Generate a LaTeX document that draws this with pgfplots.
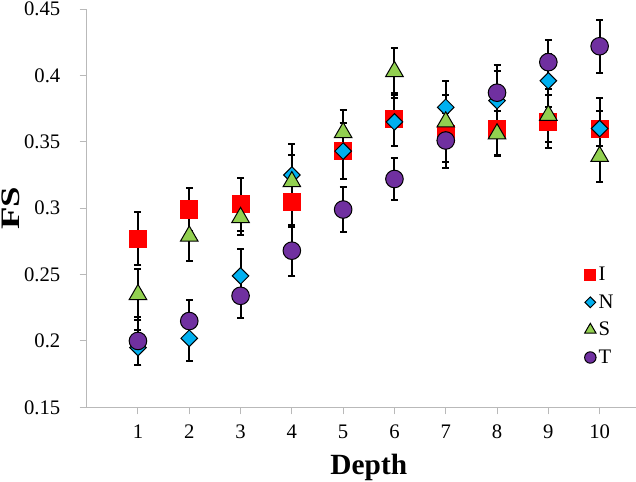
\documentclass[border=0pt]{standalone}
\usepackage{fontspec}
\setmainfont{Liberation Serif}
\usepackage{graphicx}
\usepackage{pgfplots}
\pgfplotsset{compat=1.18}
\usepackage{pgfplotstable}
\definecolor{cI}{RGB}{255,0,0}
\definecolor{cN}{RGB}{0,176,240}
\definecolor{cS}{RGB}{146,208,80}
\definecolor{cT}{RGB}{112,48,160}
\definecolor{axgray}{RGB}{185,185,185}

\pgfplotstableread{
x y e
1 0.277 0.020
2 0.299 0.016
3 0.303 0.020
4 0.305 0.019
5 0.343 0.021
6 0.367 0.020
7 0.356 0.021
8 0.360 0.020
9 0.365 0.020
10 0.360 0.023
}\tI
\pgfplotstableread{
x y e
1 0.195 0.013
2 0.202 0.017
3 0.249 0.020
4 0.325 0.023
5 0.343 0.021
6 0.365 0.018
7 0.376 0.020
8 0.381 0.022
9 0.396 0.020
10 0.360 0.013
}\tN
\pgfplotstableread{
x y e
1 0.235 0.019
2 0.279 0.019
3 0.293 0.013
4 0.320 0.020
5 0.357 0.017
6 0.403 0.018
7 0.365 0.020
8 0.356 0.017
9 0.370 0.020
10 0.339 0.019
}\tS
\pgfplotstableread{
x y e
1 0.200 0.018
2 0.215 0.016
3 0.234 0.017
4 0.268 0.019
5 0.299 0.017
6 0.322 0.016
7 0.351 0.021
8 0.387 0.021
9 0.410 0.017
10 0.422 0.020
}\tT

\begin{document}
\begin{tikzpicture}
\path[use as bounding box] (-65pt,-56pt) rectangle (412pt,305.5pt);
\begin{axis}[
  at={(0pt,0pt)}, anchor=south west,
  scale only axis, width=423.2pt, height=298.7pt,
  xmin=0, xmax=11, ymin=0.15, ymax=0.45,
  axis x line*=bottom, axis y line*=left,
  axis line style={axgray, line width=1pt, -},
  xtick={1,2,3,4,5,6,7,8,9,10},
  ytick={0.15,0.2,0.25,0.3,0.35,0.4,0.45},
  tick align=outside, major tick length=5.25pt,
  tick style={axgray, line width=0.75pt},
  tick label style={font=\fontsize{15.5}{17}\selectfont, black},
  xticklabel style={yshift=-4.5pt},
  yticklabel style={xshift=-11pt, /pgf/number format/fixed},
  /pgf/number format/assume math mode=true,
  xlabel={\fontsize{22}{24}\selectfont\bfseries Depth},
  xlabel style={at={(axis description cs:0.5,-0.168)}, anchor=base},
  ylabel={\fontsize{20}{22}\selectfont\bfseries\scalebox{1.38}[1]{FS}},
  ylabel style={at={(axis description cs:-0.134,0.5)}, anchor=center, rotate=0},
  legend style={draw=none, fill=none, at={(axis description cs:0.882,0.229)}, anchor=west,
    font=\fontsize{15.5}{17}\selectfont, row sep=5pt, inner sep=0pt},
  legend cell align=left,
  legend image post style={scale=0.65},
  every axis plot/.append style={line width=0.75pt,
    error bars/y dir=both, error bars/y explicit,
    error bars/error bar style={black, line width=1.5pt, solid},
    error bars/error mark options={black, rotate=90, mark size=2.6pt, line width=1.5pt}},
]
\addplot[only marks, mark=square*, mark size=6.4pt, draw=cI, fill=cI]
  table[x=x, y=y, y error=e] {\tI};
\addlegendentry{I}
\addplot[only marks, mark=square*, mark size=4.4pt, draw=black, fill=cN, mark options={rotate=45}]
  table[x=x, y=y, y error=e] {\tN};
\addlegendentry{N}
\addplot[only marks, mark=triangle*, mark size=7.6pt, draw=black, fill=cS]
  table[x=x, y=y, y error=e] {\tS};
\addlegendentry{S}
\addplot[only marks, mark=*, mark size=6.6pt, draw=black, fill=cT]
  table[x=x, y=y, y error=e] {\tT};
\addlegendentry{T}
\end{axis}
\end{tikzpicture}
\end{document}
